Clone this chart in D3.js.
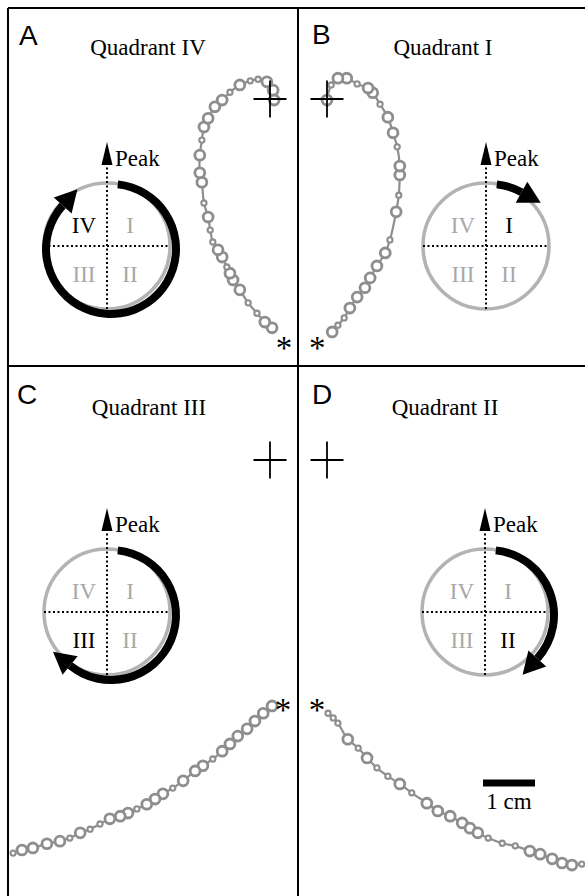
<!DOCTYPE html>
<html>
<head>
<meta charset="utf-8">
<script src="https://cdn.jsdelivr.net/npm/d3@7"></script>
<style>
  body { margin: 0; background: #fff; }
  svg { display: block; }
</style>
</head>
<body>
<svg id="fig" width="585" height="896"></svg>
<script>
// panel letters and the quadrant each one shows
var panelLetters = ['A', 'B', 'C', 'D'];
var quadrantNames = ['IV', 'I', 'III', 'II'];
var quadLabels = ['I', 'II', 'III', 'IV'];
// black sweep on the dial, degrees clockwise from Peak
var sweepStartDeg = 6;
var sweepEndDeg = [312, 29, 219, 132];

// tracks: [x cm, y cm, loop radius cm], measured from the cross, y up
var trackA = [
  [0.04, -4.40, 0.095], [-0.10, -4.29, 0.095], [-0.25, -4.12, 0.05], [-0.42, -3.92, 0.05],
  [-0.58, -3.67, 0.095], [-0.71, -3.48, 0.095], [-0.77, -3.35, 0.095], [-0.83, -3.23, 0.05],
  [-0.92, -3.04, 0.095], [-1.00, -2.90, 0.095], [-1.10, -2.75, 0.05], [-1.15, -2.52, 0.05],
  [-1.19, -2.27, 0.095], [-1.27, -2.00, 0.05], [-1.31, -1.60, 0.095], [-1.35, -1.42, 0.095],
  [-1.35, -1.08, 0.095], [-1.31, -0.79, 0.05], [-1.27, -0.54, 0.095], [-1.19, -0.37, 0.095],
  [-1.06, -0.15, 0.095], [-0.92, -0.02, 0.095], [-0.77, 0.13, 0.05], [-0.58, 0.27, 0.095],
  [-0.38, 0.35, 0.05], [-0.23, 0.38, 0.05], [-0.06, 0.33, 0.095], [0.06, 0.17, 0.095],
  [0.08, -0.02, 0.095]
];
var trackB = [
  [0.10, -4.48, 0.095], [0.21, -4.35, 0.05], [0.33, -4.21, 0.05], [0.44, -4.02, 0.095],
  [0.58, -3.81, 0.095], [0.73, -3.63, 0.095], [0.83, -3.44, 0.095], [0.96, -3.21, 0.095],
  [1.12, -2.96, 0.095], [1.21, -2.71, 0.05], [1.33, -2.17, 0.095], [1.38, -1.85, 0.05],
  [1.40, -1.46, 0.095], [1.40, -1.29, 0.095], [1.35, -0.92, 0.05], [1.27, -0.65, 0.095],
  [1.17, -0.35, 0.095], [1.02, -0.10, 0.05], [0.88, 0.12, 0.095], [0.79, 0.21, 0.095],
  [0.58, 0.29, 0.05], [0.38, 0.40, 0.095], [0.21, 0.40, 0.095], [0.08, 0.27, 0.05],
  [0.00, -0.02, 0.095]
];
var trackC = [
  [0.04, -4.73, 0.095], [-0.13, -4.87, 0.095], [-0.29, -5.02, 0.095], [-0.44, -5.17, 0.095],
  [-0.62, -5.31, 0.095], [-0.77, -5.46, 0.095], [-0.92, -5.60, 0.095], [-1.10, -5.75, 0.05],
  [-1.29, -5.88, 0.095], [-1.44, -5.98, 0.095], [-1.67, -6.17, 0.095], [-1.87, -6.31, 0.05],
  [-2.06, -6.42, 0.095], [-2.21, -6.52, 0.095], [-2.37, -6.62, 0.095], [-2.56, -6.71, 0.05],
  [-2.73, -6.79, 0.095], [-2.88, -6.85, 0.095], [-3.08, -6.90, 0.095], [-3.27, -7.00, 0.05],
  [-3.46, -7.10, 0.05], [-3.65, -7.17, 0.095], [-3.85, -7.27, 0.05], [-4.04, -7.33, 0.095],
  [-4.29, -7.38, 0.095], [-4.56, -7.46, 0.095], [-4.77, -7.50, 0.095], [-4.94, -7.56, 0.05]
];
var trackD = [
  [0.02, -4.87, 0.05], [0.12, -4.96, 0.05], [0.21, -5.06, 0.05], [0.40, -5.37, 0.095],
  [0.60, -5.54, 0.05], [0.77, -5.73, 0.095], [0.96, -5.92, 0.05], [1.17, -6.08, 0.05],
  [1.40, -6.23, 0.095], [1.63, -6.40, 0.05], [1.92, -6.60, 0.095], [2.13, -6.75, 0.095],
  [2.37, -6.85, 0.095], [2.60, -6.98, 0.095], [2.75, -7.08, 0.095], [2.90, -7.17, 0.095],
  [3.10, -7.27, 0.05], [3.37, -7.37, 0.05], [3.62, -7.42, 0.05], [3.90, -7.52, 0.095],
  [4.10, -7.58, 0.095], [4.33, -7.67, 0.095], [4.52, -7.75, 0.095], [4.71, -7.79, 0.095],
  [4.90, -7.77, 0.05]
];
var tracks = [trackA, trackB, trackC, trackD];

// scale bar in panel D, cm from that panel's cross
var scaleBarX = [3.0, 4.0];
var scaleBarY = -6.21;
var scaleBarLabel = '1 cm';

var pxPerCm = 52;
var serif = '"Liberation Serif", "Times New Roman", Times, serif';
var sans = '"Liberation Sans", Arial, Helvetica, sans-serif';
var trackGray = '#8e8e8e';
var dialGray = '#b3b3b3';
var labelGray = '#a8a8a8';

// layout of the four boxes
var panels = [
  {x0: 8, y0: 8, x1: 298, y1: 366, cross: [270, 99], dial: [107, 246], title: [148, 55], letter: [19, 45], star: [12, 14]},
  {x0: 298, y0: 8, x1: 585, y1: 366, cross: [327, 99], dial: [486, 246], title: [443, 55], letter: [312, 44], star: [-15, 10]},
  {x0: 8, y0: 366, x1: 298, y1: 896, cross: [270, 460], dial: [107, 612], title: [149, 415], letter: [17, 404], star: [11, -2]},
  {x0: 298, y0: 366, x1: 585, y1: 896, cross: [327, 460], dial: [485, 612], title: [445, 415], letter: [312, 404], star: [-11, -9]}
];

var svg = d3.select('#fig');
var defs = svg.append('defs');
var R = 63;
var rad = Math.PI / 180;

var sweepArc = d3.arc()
  .innerRadius(R - 2)
  .outerRadius(R + 6);

panels.forEach(function(p, i) {
  defs.append('clipPath').attr('id', 'clip' + i)
    .append('rect')
    .attr('x', p.x0).attr('y', p.y0)
    .attr('width', p.x1 - p.x0).attr('height', p.y1 - p.y0);

  var g = svg.append('g').classed('panel', true);

  // panel letter + title
  g.append('text')
    .attr('x', p.letter[0]).attr('y', p.letter[1])
    .style('font-family', sans).style('font-size', '28px')
    .text(panelLetters[i]);
  g.append('text')
    .attr('x', p.title[0]).attr('y', p.title[1])
    .attr('text-anchor', 'middle')
    .style('font-family', serif).style('font-size', '23px')
    .text('Quadrant ' + quadrantNames[i]);

  // dial
  var cx = p.dial[0], cy = p.dial[1];
  var dial = g.append('g').attr('transform', 'translate(' + cx + ',' + cy + ')');
  dial.append('circle')
    .attr('r', R)
    .attr('fill', 'none')
    .attr('stroke', dialGray)
    .attr('stroke-width', 3.5);

  // black sweep, slightly off centre as in the original
  var sw = dial.append('g').attr('transform', 'translate(4,3)');
  var a0 = sweepStartDeg * rad, a1 = sweepEndDeg[i] * rad;
  sw.append('path')
    .attr('d', sweepArc({startAngle: a0, endAngle: a1}))
    .attr('fill', '#000');
  var rm = R + 2, L = 22, hw = 12;
  var bx = rm * Math.sin(a1), by = -rm * Math.cos(a1);
  var tx = Math.cos(a1), ty = Math.sin(a1);      // tangent, clockwise
  var nx = Math.sin(a1), ny = -Math.cos(a1);     // radial
  sw.append('polygon')
    .attr('points', [
      [bx + L * tx, by + L * ty],
      [bx + hw * nx, by + hw * ny],
      [bx - hw * nx, by - hw * ny]
    ].map(function(q){ return q.join(','); }).join(' '))
    .attr('fill', '#000');

  // dotted axes
  dial.append('line')
    .attr('x1', -R).attr('x2', R).attr('y1', 0).attr('y2', 0)
    .attr('stroke', '#000').attr('stroke-width', 2)
    .attr('stroke-dasharray', '2,2.5');
  dial.append('line')
    .attr('x1', 0).attr('x2', 0).attr('y1', R).attr('y2', -82)
    .attr('stroke', '#000').attr('stroke-width', 2)
    .attr('stroke-dasharray', '2,2.5');
  dial.append('polygon')
    .attr('points', '0,-104 -5.5,-81 5.5,-81')
    .attr('fill', '#000');
  dial.append('text')
    .attr('x', 8).attr('y', -80)
    .style('font-family', serif).style('font-size', '23px')
    .text('Peak');

  var qpos = {I: [23, -13], II: [23, 36], III: [-23, 36], IV: [-23, -13]};
  dial.selectAll('text.quad')
    .data(quadLabels)
    .enter()
    .append('text')
    .classed('quad', true)
    .attr('x', function(d){ return qpos[d][0]; })
    .attr('y', function(d){ return qpos[d][1]; })
    .attr('text-anchor', 'middle')
    .style('font-family', serif).style('font-size', '23px')
    .attr('fill', function(d){ return d === quadrantNames[i] ? '#000' : labelGray; })
    .text(function(d){ return d; });

  // track, through cm scales anchored on the cross
  var x = d3.scaleLinear().domain([0, 1]).range([p.cross[0], p.cross[0] + pxPerCm]);
  var y = d3.scaleLinear().domain([0, 1]).range([p.cross[1], p.cross[1] - pxPerCm]);

  var tg = g.append('g').attr('clip-path', 'url(#clip' + i + ')');
  var line = d3.line()
    .x(function(d){ return x(d[0]); })
    .y(function(d){ return y(d[1]); })
    .curve(d3.curveCatmullRom);
  tg.append('path')
    .datum(tracks[i])
    .attr('d', line)
    .attr('fill', 'none')
    .attr('stroke', trackGray)
    .attr('stroke-width', 2.2);
  tg.selectAll('circle')
    .data(tracks[i])
    .enter()
    .append('circle')
    .attr('cx', function(d){ return x(d[0]); })
    .attr('cy', function(d){ return y(d[1]); })
    .attr('r', function(d){ return d[2] * pxPerCm; })
    .attr('fill', '#fff')
    .attr('stroke', trackGray)
    .attr('stroke-width', function(d){ return d[2] > 0.06 ? 2.8 : 2.1; });

  // cross
  g.append('line')
    .attr('x1', x(0) - 16.5).attr('x2', x(0) + 16.5)
    .attr('y1', y(0)).attr('y2', y(0))
    .attr('stroke', '#000').attr('stroke-width', 1.8);
  g.append('line')
    .attr('x1', x(0)).attr('x2', x(0))
    .attr('y1', y(0) - 18.5).attr('y2', y(0) + 18.5)
    .attr('stroke', '#000').attr('stroke-width', 1.8);

  // start marker
  var s0 = tracks[i][0];
  g.append('text')
    .attr('x', x(s0[0]) + p.star[0])
    .attr('y', y(s0[1]) + p.star[1] + 17)
    .attr('text-anchor', 'middle')
    .style('font-family', serif).style('font-size', '33px')
    .text('*');

  if (i === 3) {
    g.append('line')
      .attr('x1', x(scaleBarX[0])).attr('x2', x(scaleBarX[1]))
      .attr('y1', y(scaleBarY)).attr('y2', y(scaleBarY))
      .attr('stroke', '#000').attr('stroke-width', 7);
    g.append('text')
      .attr('x', (x(scaleBarX[0]) + x(scaleBarX[1])) / 2)
      .attr('y', y(scaleBarY) + 26)
      .attr('text-anchor', 'middle')
      .style('font-family', serif).style('font-size', '23px')
      .text(scaleBarLabel);
  }
});

// frame lines
var frame = [
  [8, 8, 585, 8], [8, 8, 8, 896], [298, 8, 298, 896], [8, 366, 585, 366]
];
svg.selectAll('line.frame')
  .data(frame)
  .enter()
  .append('line')
  .classed('frame', true)
  .attr('x1', function(d){ return d[0]; })
  .attr('y1', function(d){ return d[1]; })
  .attr('x2', function(d){ return d[2]; })
  .attr('y2', function(d){ return d[3]; })
  .attr('stroke', '#000')
  .attr('stroke-width', 2);
</script>
</body>
</html>
